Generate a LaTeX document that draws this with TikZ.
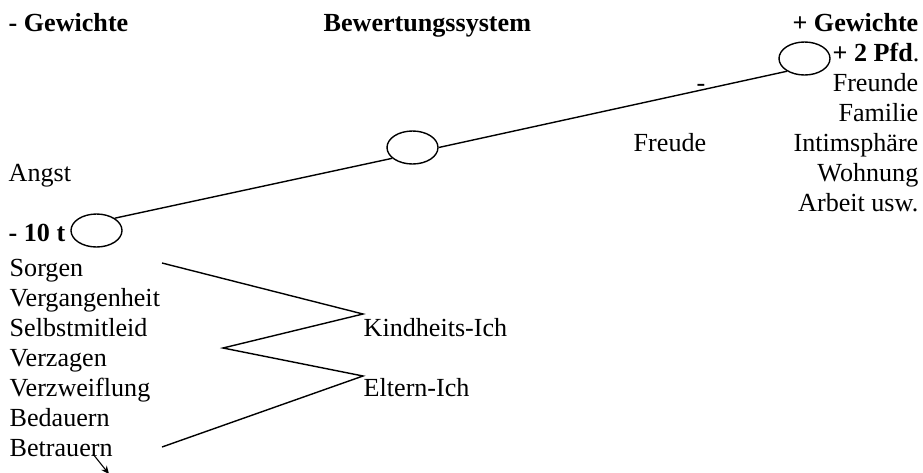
\documentclass[tikz,border=0pt]{standalone}
\usepackage{fontspec}
\setmainfont{Liberation Serif}
\usepackage{tikz}
\usetikzlibrary{shapes.geometric,arrows.meta}

\begin{document}
\begin{tikzpicture}[x=1pt,y=-1pt,line width=1.4pt,
	oval/.style={ellipse, draw, inner sep=0pt, minimum width=51pt, minimum height=33pt},
	wort/.style={inner sep=0pt, anchor=base west, font=\fontsize{26.1}{30}\selectfont},
	wortr/.style={wort, anchor=base east},
	titel/.style={wort, font=\fontsize{26.1}{30}\selectfont\bfseries}]
\useasboundingbox (0,0) rectangle (923,472);
% Kopfzeile
\node [titel] (minus) at (8,31.7) {- Gewichte};
\node [titel] (system) at (323,31.7) {Bewertungssystem};
\node [titel, anchor=base east] (plus) at (919,31.7) {+ Gewichte};
% rechte Seite
\node [wortr] (pfund) at (920,61.7) {\textbf{+ 2 Pfd}.};
\node [wortr] (freunde) at (919,91.7) {Freunde};
\node [wortr] (familie) at (919,121.7) {Familie};
\node [wortr] (intim) at (919,151.7) {Intimsphäre};
\node [wortr] (wohnung) at (919,181.7) {Wohnung};
\node [wortr] (arbeit) at (919,211.7) {Arbeit usw.};
\node [wort, anchor=base] (strich) at (701,91.7) {-};
\node [wort] (freude) at (633,151.7) {Freude};
% linke Seite
\node [wort] (angst) at (8,181.7) {Angst};
\node [titel] (tonnen) at (8,241.7) {- 10 t};
\node [wort] (sorgen) at (9,276.7) {Sorgen};
\node [wort] (verg) at (9,306.7) {Vergangenheit};
\node [wort] (selbst) at (9,336.7) {Selbstmitleid};
\node [wort] (verzagen) at (9,366.7) {Verzagen};
\node [wort] (verzw) at (9,396.7) {Verzweiflung};
\node [wort] (bedauern) at (9,426.7) {Bedauern};
\node [wort] (betrauern) at (9,456.7) {Betrauern};
\node [wort] (kind) at (363,336.7) {Kindheits-Ich};
\node [wort] (eltern) at (363,396.7) {Eltern-Ich};
% Waage
\node [oval] (links) at (96.5,230.5) {};
\node [oval] (mitte) at (412.5,147.5) {};
\node [oval] (rechts) at (804.5,58.5) {};
\draw (links.34) -- (mitte.208);
\draw (mitte.east) -- (rechts.216);
% Zickzack
\coordinate (z1) at (162,263);
\coordinate (z2) at (363,314);
\coordinate (z3) at (223,348);
\coordinate (z4) at (363,376);
\coordinate (z5) at (162,447);
\draw (z1) -- (z2) -- (z3) -- (z4) -- (z5);
\coordinate (pfeil) at (93,454);
\coordinate (pfeilende) at (109,474);
\draw [line width=1.1pt, -{Stealth[length=8pt,width=7pt]}] (pfeil) -- (pfeilende);
\end{tikzpicture}
\end{document}
